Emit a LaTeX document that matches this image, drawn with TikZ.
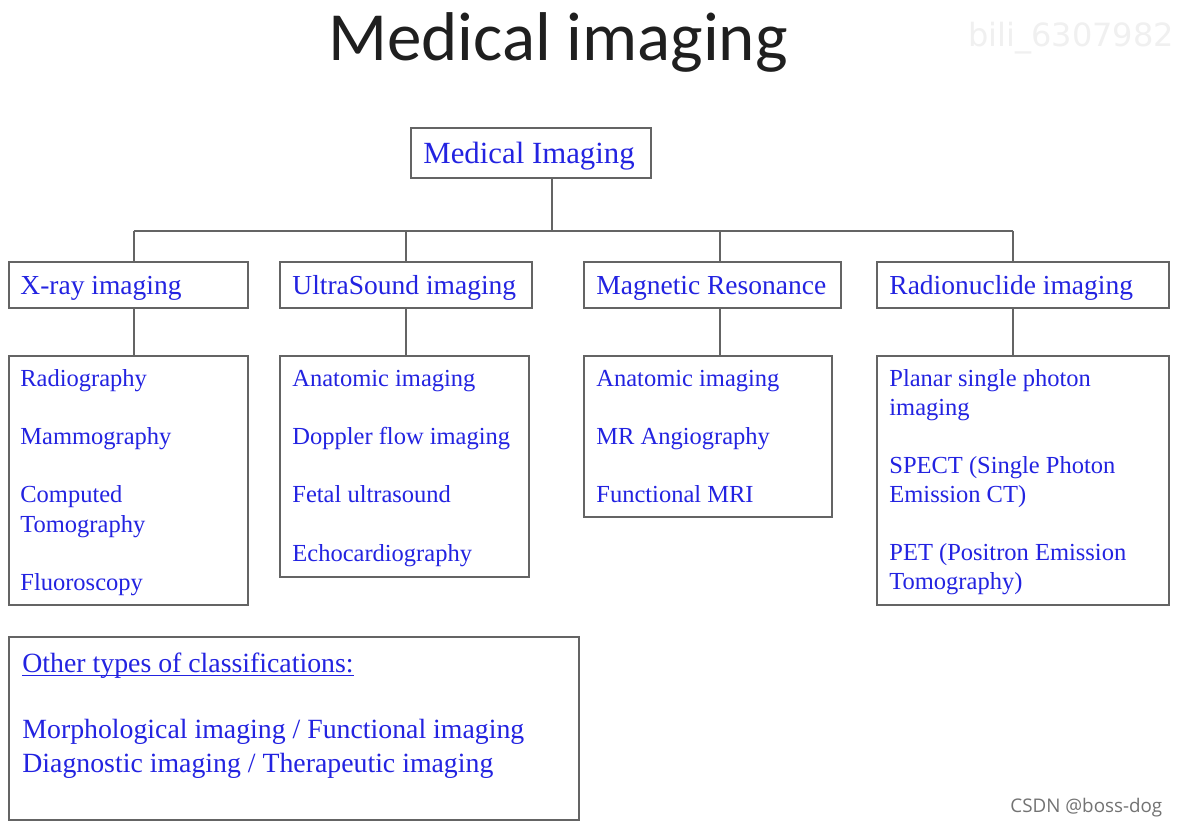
\documentclass[tikz,border=0pt]{standalone}
\usepackage{fontspec}
\setmainfont{Liberation Serif}
\newfontfamily\titlefont{Carlito}
\newfontfamily\wmfont{DejaVu Sans}
\newfontfamily\csdnfont{Open Sans}
\usetikzlibrary{fit}
\definecolor{txtblue}{RGB}{35,35,225}
\definecolor{boxgray}{RGB}{100,100,100}
\begin{document}
\begin{tikzpicture}[x=0.5pt,y=-0.5pt,
  box/.style={draw=boxgray,line width=1pt,inner sep=0pt},
  link/.style={draw=boxgray,line width=1pt},
  rootlbl/.style={anchor=base west,inner sep=0pt,text=txtblue,font=\fontsize{15.4}{18}\selectfont},
  headlbl/.style={anchor=base west,inner sep=0pt,text=txtblue,font=\fontsize{13.75}{16}\selectfont},
  itemlbl/.style={anchor=base west,inner sep=0pt,text=txtblue,font=\fontsize{12.25}{14}\selectfont},
  otherlbl/.style={anchor=base west,inner sep=0pt,text=txtblue,font=\fontsize{13.9}{16}\selectfont}]
\useasboundingbox (0,0) rectangle (1178,827);
\fill[white] (0,0) rectangle (1178,827);

% title and marks
\node[anchor=base,inner sep=0pt,text=black!88,font=\titlefont\fontsize{34.5}{40}\selectfont] (title) at (558,60) {Medical imaging};
\node[anchor=base west,inner sep=0pt,text=black!6,font=\wmfont\fontsize{16}{20}\selectfont] (wm) at (968,46) {bili\_6307982};
\node[anchor=base west,inner sep=0pt,text=black!55,font=\csdnfont\fontsize{9.4}{11}\selectfont] (csdn) at (1010,812) {CSDN @boss-dog};

% boxes
\node[box,fit={(411,128) (651,178)}] (root) {};
\node[box,fit={(9,262) (248,308)}] (xray) {};
\node[box,fit={(280,262) (532,308)}] (us) {};
\node[box,fit={(584,262) (841,308)}] (mr) {};
\node[box,fit={(877,262) (1169,308)}] (rn) {};
\node[box,fit={(9,356) (248,605)}] (xlist) {};
\node[box,fit={(280,356) (529,577)}] (uslist) {};
\node[box,fit={(584,356) (832,517)}] (mrlist) {};
\node[box,fit={(877,356) (1169,605)}] (rnlist) {};
\node[box,fit={(9,637) (579,820)}] (other) {};

% connectors
\coordinate (bus) at (552,231);
\coordinate (d1) at (134,231);
\coordinate (d2) at (406,231);
\coordinate (d3) at (720,231);
\coordinate (d4) at (1013,231);
\draw[link] (bus |- root.south) -- (bus);
\draw[link] (d1) -- (d4);
\draw[link] (d1) -- (d1 |- xray.north);
\draw[link] (d2) -- (d2 |- us.north);
\draw[link] (d3) -- (d3 |- mr.north);
\draw[link] (d4) -- (d4 |- rn.north);
\draw[link] (d1 |- xray.south) -- (d1 |- xlist.north);
\draw[link] (d2 |- us.south) -- (d2 |- uslist.north);
\draw[link] (d3 |- mr.south) -- (d3 |- mrlist.north);
\draw[link] (d4 |- rn.south) -- (d4 |- rnlist.north);

% labels
\node[rootlbl] (roott) at (423,163) {Medical Imaging};
\node[headlbl] (xrayt) at (20,294) {X-ray imaging};
\node[headlbl] (ust) at (292,294) {UltraSound imaging};
\node[headlbl] (mrt) at (596,294) {Magnetic Resonance};
\node[headlbl] (rnt) at (889,294) {Radionuclide imaging};

\node[itemlbl] (x1) at (20,386) {Radiography};
\node[itemlbl] (x2) at (20,444) {Mammography};
\node[itemlbl] (x3) at (20,502) {Computed};
\node[itemlbl] (x3b) at (20,532) {Tomography};
\node[itemlbl] (x4) at (20,590) {Fluoroscopy};

\node[itemlbl] (u1) at (292,386) {Anatomic imaging};
\node[itemlbl] (u2) at (292,444) {Doppler flow imaging};
\node[itemlbl] (u3) at (292,502) {Fetal ultrasound};
\node[itemlbl] (u4) at (292,561) {Echocardiography};

\node[itemlbl] (m1) at (596,386) {Anatomic imaging};
\node[itemlbl] (m2) at (596,444) {MR Angiography};
\node[itemlbl] (m3) at (596,502) {Functional MRI};

\node[itemlbl] (r1) at (889,386) {Planar single photon};
\node[itemlbl] (r1b) at (889,415) {imaging};
\node[itemlbl] (r2) at (889,473) {SPECT (Single Photon};
\node[itemlbl] (r2b) at (889,502) {Emission CT)};
\node[itemlbl] (r3) at (889,560) {PET (Positron Emission};
\node[itemlbl] (r3b) at (889,589) {Tomography)};

\node[otherlbl] (o1) at (22,672) {Other types of classifications:};
\draw[txtblue,line width=0.6pt] ([yshift=-1.6pt]o1.base west) -- ([yshift=-1.6pt]o1.base east);
\node[otherlbl] (o2) at (22,738) {Morphological imaging / Functional imaging};
\node[otherlbl] (o3) at (22,772) {Diagnostic imaging / Therapeutic imaging};
\end{tikzpicture}
\end{document}
